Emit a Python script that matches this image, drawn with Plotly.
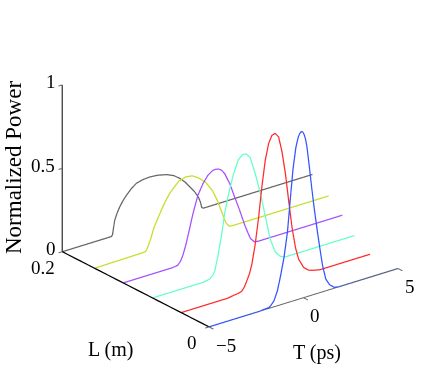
import plotly.graph_objects as go

# Pulse evolution, one trace per fibre length
L_VALUES = [0.2, 0.156, 0.117, 0.077, 0.038, 0.0]
COLORS = ['#666666', '#c8dc28', '#a64dff', '#66ffc4', '#ff2a2a', '#3355ff']

T_GRAY = [-5, -2.40, -2.34, -2.28, -2.23, -2.10, -1.97, -1.80, -1.61, -1.35, -1.08, -.75, -.37, .05, .52, .9, 1.22, 1.50, 1.76, 2.00, 2.2, 2.30, 2.38, 2.45, 8.24]
P_GRAY = [0, 0, .01, .055, .09, .13, .161, .192, .219, .25, .273, .283, .286, .282, .269, .25, .222, .19, .151, .115, .076, .045, .008, 0, 0]

T_YELLOW = [-5, -2.50, -2.30, -2.22, -2.13, -2.04, -1.86, -1.60, -1.42, -1.24, -1.02, -.80, -.53, -.18, .18, .53, .89, 1.24, 1.51, 1.77, 1.95, 2.13, 2.36, 7.39]
P_YELLOW = [0, .004, .006, .02, .043, .069, .133, .194, .235, .272, .31, .337, .367, .379, .373, .347, .308, .246, .176, .087, .03, .002, 0, 0]

T_PURPLE = [-5, -2.38, -2.11, -1.97, -1.85, -1.67, -1.49, -1.31, -1.05, -.78, -.52, -.25, -.11, .05, .21, .37, .64, .90, 1.17, 1.44, 1.60, 1.74, 1.93, 2.13, 6.6]
P_PURPLE = [0, 0, .005, .024, .052, .117, .201, .285, .386, .447, .488, .509, .51, .506, .493, .467, .398, .308, .218, .119, .07, .03, .005, 0, 0]

T_TEAL = [-5, -2.34, -2.23, -1.97, -1.81, -1.70, -1.53, -1.35, -1.17, -.99, -.73, -.46, -.25, -.05, .16, .43, .69, .96, 1.22, 1.49, 1.76, 2.02, 5.69]
P_TEAL = [0, 0, .002, .008, .024, .049, .134, .248, .383, .476, .587, .669, .692, .69, .663, .557, .438, .287, .138, .049, .013, 0, 0]

T_RED = [-5, -2.52, -2.23, -1.98, -1.79, -1.65, -1.53, -1.38, -1.26, -1.08, -.90, -.73, -.55, -.37, -.20, -.02, .16, .34, .52, .69, .87, 1.05, 1.22, 1.49, 1.76, 2.02, 2.34, 5]
P_RED = [0, 0, .006, .009, .016, .037, .067, .108, .158, .273, .427, .602, .756, .851, .894, .90, .872, .776, .639, .472, .305, .178, .102, .043, .017, .008, 0, 0]

T_BLUE = [-5, -2.29, -2.18, -1.82, -1.70, -1.56, -1.38, -1.21, -1.03, -.85, -.68, -.55, -.41, -.34, -.27, -.19, -.11, -.04, .04, .11, .18, .30, .44, .57, .74, .87, 1.01, 1.18, 1.37, 1.63, 1.86, 5]
P_BLUE = [0, 0, .002, .005, .017, .036, .09, .175, .279, .423, .638, .795, .91, .945, .975, .992, 1.0, .995, .975, .945, .9, .784, .639, .514, .367, .263, .157, .071, .031, .005, 0, 0]

T_CURVES = [T_GRAY, T_YELLOW, T_PURPLE, T_TEAL, T_RED, T_BLUE]
P_CURVES = [P_GRAY, P_YELLOW, P_PURPLE, P_TEAL, P_RED, P_BLUE]

T_TICKS = [-5, 0, 5]
L_TICKS = [0, 0.2]
P_TICKS = [0, 0.5, 1]
# ranges a bit past the data, lines sitting right on the limit get clipped
T_RANGE = [-5.5, 8.5]
L_RANGE = [-0.01, 0.21]
P_RANGE = [-0.05, 1.05]

# camera, worked out from where the axis ends sit in the picture
CENTER = dict(x=-0.195, y=0.1075, z=-0.080)
DIR = (-0.563, -0.725, 0.398)


def px(x):
    return x / 436


def py(y):
    return 1 - y / 368


fig = go.Figure()


def line3d(xs, ys, zs, color, width):
    fig.add_trace(go.Scatter3d(x=xs, y=ys, z=zs, mode='lines', showlegend=False,
                               line=dict(color=color, width=width), hoverinfo='skip'))


# axes
line3d([-5, -5], [0, 0.2], [0, 0], 'black', 2.5)
line3d([-5, -5], [0.2, 0.2], [0, 1], '#333333', 2.5)
line3d([-5, 5], [0, 0], [0, 0], '#666666', 2)

# ticks
for t in T_TICKS:
    line3d([t, t], [0, -0.006], [0, 0], '#666666', 2)
for l in L_TICKS:
    line3d([-5, -5.2], [l, l], [0, 0], '#666666', 2)
for p in P_TICKS:
    line3d([-5, -5.2], [0.2, 0.2], [p, p], '#666666', 2)

for l, t, p, c in zip(L_VALUES, T_CURVES, P_CURVES, COLORS):
    line3d(t, [l] * len(t), p, c, 2.5)

tick_font = dict(family='Liberation Serif', size=19, color='black')
notes = []
for p, lab, dx in zip(P_TICKS, ['0', '0.5', '1'], [-11, -19, -11]):
    notes.append(dict(x=-5, y=0.2, z=p, text=lab, showarrow=False, font=tick_font, xshift=dx, yshift=3))
notes.append(dict(x=-5, y=0.2, z=0, text='0.2', showarrow=False, font=tick_font, xshift=-19, yshift=-16))
notes.append(dict(x=-5, y=0, z=0, text='0', showarrow=False, font=tick_font, xshift=-17, yshift=-16))
notes.append(dict(x=-5, y=0, z=0, text='\u22125', showarrow=False, font=tick_font, xshift=17, yshift=-19))
notes.append(dict(x=0, y=0, z=0, text='0', showarrow=False, font=tick_font, xshift=12, yshift=-18))
notes.append(dict(x=5, y=0, z=0, text='5', showarrow=False, font=tick_font, xshift=12, yshift=-18))

hidden = dict(visible=False, showgrid=False, zeroline=False, showline=False,
              showticklabels=False, showspikes=False, showbackground=False)

fig.update_layout(
    width=436, height=368,
    margin=dict(l=0, r=0, t=0, b=0),
    paper_bgcolor='white',
    showlegend=False,
    scene=dict(
        domain=dict(x=[0, 1], y=[0, 1]),
        xaxis=dict(range=T_RANGE, **hidden),
        yaxis=dict(range=L_RANGE, **hidden),
        zaxis=dict(range=P_RANGE, **hidden),
        aspectmode='manual',
        aspectratio=dict(x=1.82, y=1.43, z=1.087),
        camera=dict(
            projection=dict(type='orthographic'),
            up=dict(x=0, y=0, z=1),
            center=CENTER,
            eye=dict(x=CENTER['x'] + DIR[0], y=CENTER['y'] + DIR[1], z=CENTER['z'] + DIR[2]),
        ),
        annotations=notes,
    ),
    annotations=[
        dict(text='Normalized Power', x=px(13), y=py(168), xref='paper', yref='paper',
             xanchor='center', yanchor='middle', showarrow=False, textangle=-90,
             font=dict(family='Liberation Serif', size=23, color='black')),
        dict(text='L (m)', x=px(110), y=py(349), xref='paper', yref='paper', showarrow=False,
             xanchor='center', yanchor='middle', font=dict(family='Liberation Serif', size=20, color='black')),
        dict(text='T (ps)', x=px(317), y=py(352), xref='paper', yref='paper', showarrow=False,
             xanchor='center', yanchor='middle', font=dict(family='Liberation Serif', size=20, color='black')),
    ],
)

# body margin would push the plot 8px in and cut the y title
fig.write_html("out.html", config=dict(displayModeBar=False), post_script="document.body.style.margin = '0';")
